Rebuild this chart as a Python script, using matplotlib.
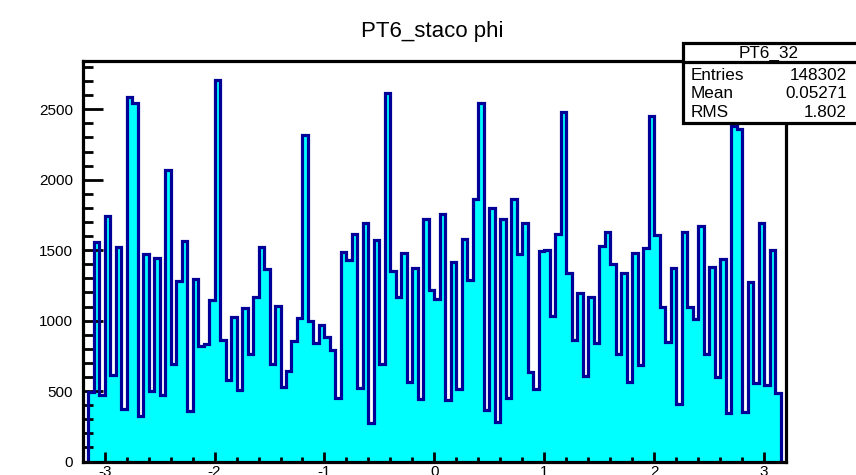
import numpy as np
import matplotlib
matplotlib.use("Agg")
import matplotlib.pyplot as plt
from matplotlib.patches import Rectangle
from matplotlib.ticker import MultipleLocator

plt.rcParams['font.family'] = ['Liberation Sans', 'DejaVu Sans']
plt.rcParams['axes.unicode_minus'] = False

# Bin contents of the phi histogram, 0.05 wide bins from -3.15 to 3.15
counts = [
    490, 1557, 473, 1741, 613, 1521, 370, 2584, 2543, 320,
    1470, 500, 1446, 473, 2071, 689, 1281, 1563, 356, 1292,
    822, 837, 1148, 2707, 865, 577, 1023, 506, 1092, 761,
    1167, 1519, 1368, 695, 1101, 530, 640, 857, 1021, 2315,
    1000, 840, 967, 884, 790, 454, 1486, 1427, 1613, 525,
    1691, 275, 1569, 695, 2614, 1354, 1164, 1477, 565, 1372,
    447, 1719, 1217, 1156, 1759, 440, 1419, 518, 1578, 1285,
    1866, 2546, 369, 1801, 278, 1722, 453, 1866, 1476, 1694,
    638, 518, 1493, 1502, 1030, 1616, 2480, 1335, 860, 1198,
    606, 1164, 840, 1530, 1630, 1403, 766, 1341, 567, 1483,
    682, 1516, 2449, 1610, 1099, 845, 1374, 405, 1630, 1093,
    1014, 1672, 766, 1382, 599, 1439, 346, 2383, 2360, 353,
    1274, 558, 1694, 541, 1499, 484,
]
phi_lo, phi_hi = -3.15, 3.15
x_range = (-3.2, 3.2)

title = "PT6_staco phi"
hist_name = "PT6_32"
stat_labels = ["Entries", "Mean", "RMS"]
stat_values = ["148302", "0.05271", "1.802"]

W, H = 856, 475
fig = plt.figure(figsize=(W / 100, H / 100), dpi=100)
fig.patch.set_facecolor("white")


def fx(px):
    return px / W


def fy(py):
    return 1 - py / H


ax_l, ax_r, ax_t, ax_b = 82.7, 786.0, 61.0, 461.5
ax = fig.add_axes([fx(ax_l), fy(ax_b), fx(ax_r - ax_l), (ax_b - ax_t) / H])

edges = np.linspace(phi_lo, phi_hi, len(counts) + 1)
ax.stairs(counts, edges, fill=True, color="#00ffff", zorder=1)
ax.stairs(counts, edges, fill=False, baseline=0, color="#000099",
          linewidth=2.3, zorder=2)

ax.set_xlim(*x_range)
ax.set_ylim(0, 1.05 * max(counts))

for side in ["top", "bottom", "left", "right"]:
    ax.spines[side].set_linewidth(2.3)
    ax.spines[side].set_color("black")

ax.xaxis.set_major_locator(MultipleLocator(1))
ax.xaxis.set_minor_locator(MultipleLocator(0.2))
ax.yaxis.set_major_locator(MultipleLocator(500))
ax.yaxis.set_minor_locator(MultipleLocator(100))

ax.tick_params(axis="y", which="major", direction="in", length=14.5,
               width=2.0, labelsize=11, pad=7)
ax.tick_params(axis="y", which="minor", direction="in", length=7,
               width=2.0)
ax.tick_params(axis="x", which="major", direction="in", length=7,
               width=2.0, labelsize=11, pad=2.5)
ax.tick_params(axis="x", which="minor", direction="in", length=3.5,
               width=2.0)
ax.tick_params(top=False, right=False, which="both")

# Title
fig.text(fx(432), fy(32), title, ha="center", va="center", fontsize=16)

# Statistics box
bx0, bx1, by0, by1 = 683, 860, 43.5, 123
shadow = Rectangle((fx(bx0 + 2), fy(by1 + 2)), fx(bx1 - bx0), (by1 - by0) / H,
                   transform=fig.transFigure, facecolor="black",
                   edgecolor="black", linewidth=0, zorder=9)
box = Rectangle((fx(bx0), fy(by1)), fx(bx1 - bx0), (by1 - by0) / H,
                transform=fig.transFigure, facecolor="white",
                edgecolor="black", linewidth=2.3, zorder=10)
fig.add_artist(shadow)
fig.add_artist(box)
fig.add_artist(plt.Line2D([fx(bx0), fx(bx1)], [fy(61.5), fy(61.5)],
                          transform=fig.transFigure, color="black",
                          linewidth=2.3, zorder=11))

fig.text(fx(769), fy(53), hist_name, ha="center", va="center",
         fontsize=12.3, zorder=12)
row_y = [75, 94, 112.5]
for lab, val, ry in zip(stat_labels, stat_values, row_y):
    fig.text(fx(690.5), fy(ry), lab, ha="left", va="center",
             fontsize=12.3, zorder=12)
    fig.text(fx(847), fy(ry), val, ha="right", va="center",
             fontsize=12.3, zorder=12)

fig.savefig("out.png", dpi=100)
